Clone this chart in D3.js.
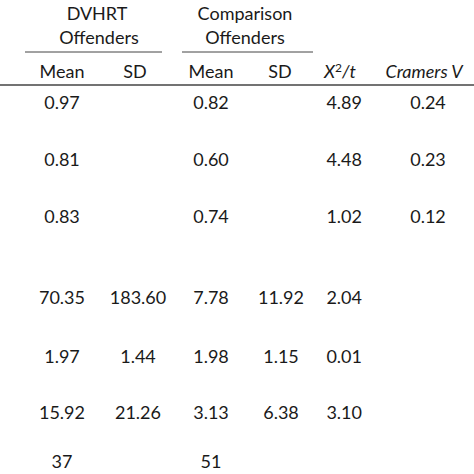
<!DOCTYPE html>
<html>
<body style="margin:0">
<script src="https://d3js.org/d3.v7.min.js"></script>
<script>
// table values, one array per column
const rows = ["r1", "r2", "r3", "r4", "r5", "r6", "r7"];
const dvMean = ["0.97", "0.81", "0.83", "70.35", "1.97", "15.92", "37"];
const dvSD = ["", "", "", "183.60", "1.44", "21.26", ""];
const cmpMean = ["0.82", "0.60", "0.74", "7.78", "1.98", "3.13", "51"];
const cmpSD = ["", "", "", "11.92", "1.15", "6.38", ""];
const chiT = ["4.89", "4.48", "1.02", "2.04", "0.01", "3.10", ""];
const cramer = ["0.24", "0.23", "0.12", "", "", "", ""];

const width = 474, height = 474;
const svg = d3.select("body").append("svg")
    .attr("width", width).attr("height", height)
    .style("font-family", "Lato, 'Open Sans', sans-serif")
    .style("font-size", "18px")
    .style("fill", "#1a1a1a");

const y = d3.scaleOrdinal().domain(rows).range([109, 166, 223, 304, 363, 419, 468]);

const cols = [
  {vals: dvMean, x: 62, anchor: "middle"},
  {vals: dvSD, x: 138, anchor: "middle"},
  {vals: cmpMean, x: 211, anchor: "middle"},
  {vals: cmpSD, x: 281, anchor: "middle"},
  {vals: chiT, x: 362, anchor: "end"},
  {vals: cramer, x: 428, anchor: "middle"}
];

cols.forEach(c => {
  svg.append("g").selectAll("text")
    .data(c.vals.map((v, i) => ({v, r: rows[i]})))
    .enter().append("text")
    .attr("x", c.x).attr("y", d => y(d.r))
    .attr("text-anchor", c.anchor)
    .text(d => d.v);
});

// headers
const head = svg.append("g").attr("text-anchor", "middle");
head.append("text").attr("x", 97).attr("y", 20).text("DVHRT");
head.append("text").attr("x", 99).attr("y", 44).text("Offenders");
head.append("text").attr("x", 245).attr("y", 20).text("Comparison");
head.append("text").attr("x", 245).attr("y", 44).text("Offenders");
head.append("text").attr("x", 62).attr("y", 78).text("Mean");
head.append("text").attr("x", 135).attr("y", 78).text("SD");
head.append("text").attr("x", 211).attr("y", 78).text("Mean");
head.append("text").attr("x", 280).attr("y", 78).text("SD");
const chi = head.append("text").attr("x", 340).attr("y", 78).style("font-style", "italic");
chi.append("tspan").text("X");
chi.append("tspan").attr("dy", -6).style("font-size", "12px").style("font-style", "normal").text("2");
chi.append("tspan").attr("dy", 6).text("/t");
head.append("text").attr("x", 424).attr("y", 78).style("font-style", "italic").text("Cramers V");

const rule = [[25, 162, 52], [182, 313, 52], [0, 474, 85]];
svg.selectAll("line").data(rule).enter().append("line")
  .attr("x1", d => d[0]).attr("x2", d => d[1])
  .attr("y1", d => d[2]).attr("y2", d => d[2])
  .attr("stroke", "#444").attr("stroke-width", d => d[1] === 474 ? 1.5 : 1);
</script>
</body>
</html>
